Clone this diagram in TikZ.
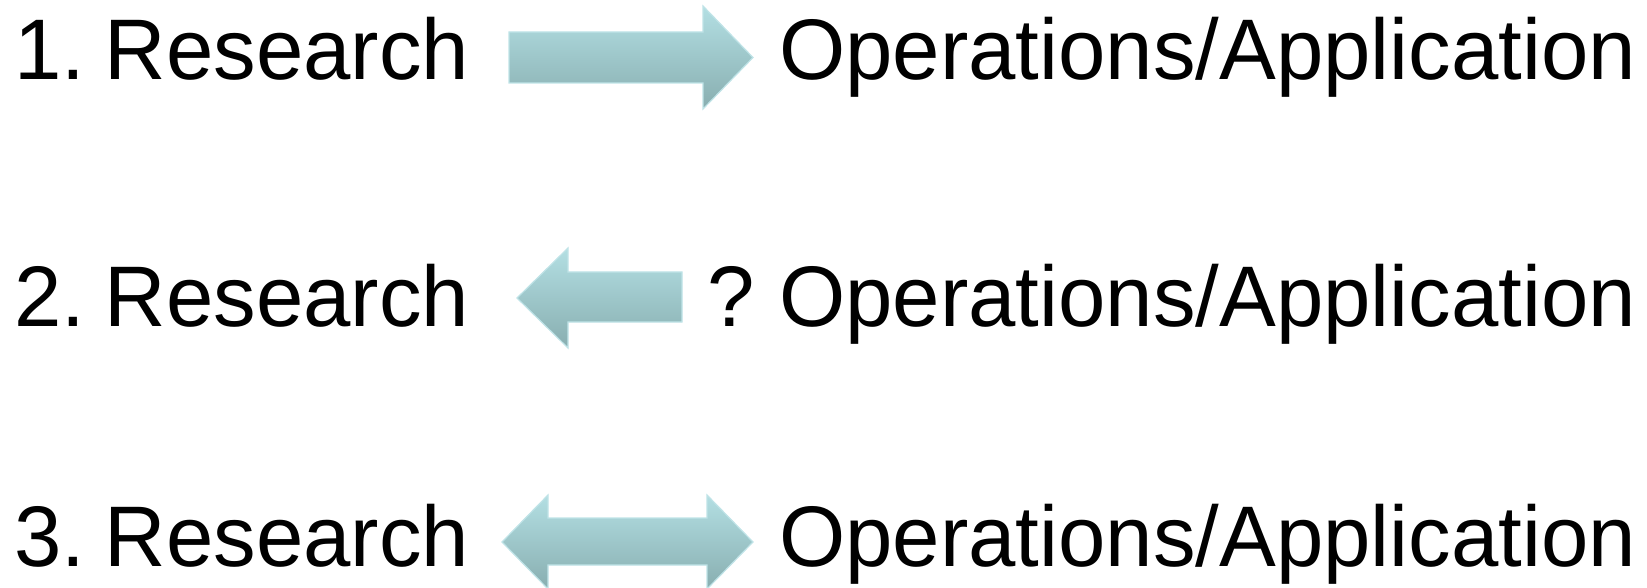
\documentclass[tikz,border=0pt]{standalone}
\usepackage{fontspec}
\setmainfont{Liberation Sans}
\definecolor{arrtop}{HTML}{B3DFE3}
\definecolor{arrbot}{HTML}{88AEB0}
\definecolor{arredge}{HTML}{BFE3E7}
\newcommand{\sq}[1]{\scalebox{0.99}[1]{#1}}
\tikzset{
  lbl/.style={inner sep=0pt, outer sep=0pt, font=\fontsize{86}{86}\selectfont},
  blockarrow/.style={top color=arrtop, bottom color=arrbot, draw=arredge, line width=1.2pt, line join=miter}
}
\begin{document}
\begin{tikzpicture}[x=1pt,y=-1pt]
\useasboundingbox (0,0) rectangle (1647,588);
\clip (0,0) rectangle (1647,588);
% row 1
\node[lbl, anchor=base west] (r1) at (14.4,80) {\sq{1.\hspace{19.5pt}Research}};
\node[lbl, anchor=base east] (o1) at (1636,80) {\sq{Operations/Application}};
\path[blockarrow] (509,32) -- (703,32) -- (703,6) -- (753,57.5) -- (703,109) -- (703,83) -- (509,83) -- cycle;
% row 2
\node[lbl, anchor=base west] (r2) at (14.4,326.5) {\sq{2.\hspace{19.5pt}Research}};
\node[lbl, anchor=base east] (o2) at (1636,326.5) {\sq{Operations/Application}};
\node[lbl, anchor=base west] (q2) at (707,326.5) {\sq{?}};
\path[blockarrow] (682,272) -- (568,272) -- (568,248) -- (517,298) -- (568,348) -- (568,322) -- (682,322) -- cycle;
% row 3
\node[lbl, anchor=base west] (r3) at (14.4,566) {\sq{3.\hspace{19.5pt}Research}};
\node[lbl, anchor=base east] (o3) at (1636,566) {\sq{Operations/Application}};
\path[blockarrow] (502,542) -- (548,495) -- (548,518) -- (707,518) -- (707,495) -- (753,542) -- (707,589) -- (707,565) -- (548,565) -- (548,589) -- cycle;
\end{tikzpicture}
\end{document}
